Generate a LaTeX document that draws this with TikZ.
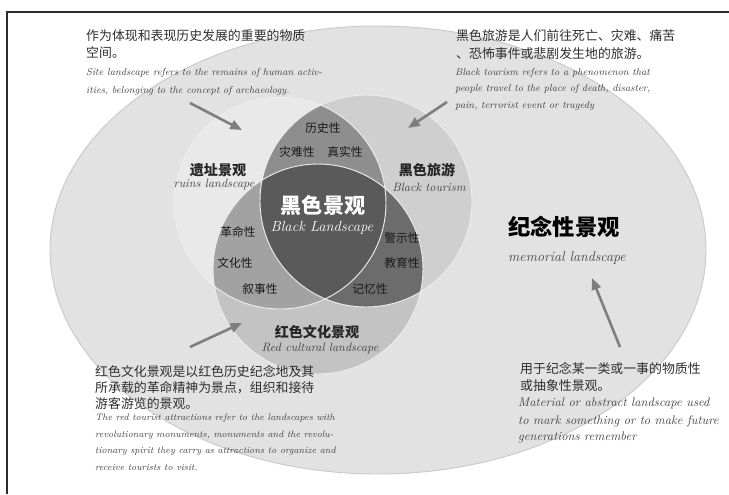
\documentclass[tikz,border=0pt]{standalone}
\usepackage{fontspec}
\usepackage{xcolor}
\usepackage{tikz}
\usetikzlibrary{arrows.meta}
\newfontfamily\zh{Noto Sans CJK SC}
\definecolor{framegray}{HTML}{2B2B2B}
\definecolor{ovalgray}{HTML}{E2E2E2}
\definecolor{ovalline}{HTML}{CACACA}
\definecolor{ruinsgray}{HTML}{E9E9E9}
\definecolor{tourgray}{HTML}{CFCFCF}
\definecolor{redgray}{HTML}{C3C3C3}
\definecolor{histgray}{HTML}{8E8E8E}
\definecolor{leftgray}{HTML}{A2A2A2}
\definecolor{rightgray}{HTML}{6C6C6C}
\definecolor{coregray}{HTML}{5A5A5A}
\definecolor{arrowgray}{HTML}{7E7E7E}
\definecolor{txtgray}{HTML}{2E2E2E}
\definecolor{engray}{HTML}{444444}

\begin{document}
\begin{tikzpicture}[x=0.03cm,y=-0.03cm,
  zhline/.style={anchor=base west,inner sep=0pt,text=txtgray,font=\zh\fontsize{11}{13}\selectfont},
  enline/.style={anchor=base west,inner sep=0pt,text=engray,font=\itshape\fontsize{8.6}{10}\selectfont},
  trait/.style={inner sep=0pt,text=black!90,font=\zh\fontsize{10}{12}\selectfont},
  setname/.style={inner sep=0pt,text=black!85,font=\zh\bfseries\fontsize{12}{14}\selectfont},
  setsub/.style={inner sep=0pt,text=engray,font=\itshape\fontsize{10.3}{12}\selectfont},
  pointer/.style={-{Triangle[length=10pt,width=8pt]},line width=2.2pt,draw=arrowgray,fill=arrowgray}]
\useasboundingbox (0,0) rectangle (729,494);
\fill[white] (0,0) rectangle (729,494);
\draw[framegray,line width=1.5pt] (7,494) -- (7,12) -- (729,12);
% big oval
\draw[fill=ovalgray,draw=ovalline,line width=0.8pt] (378,250) ellipse [x radius=328,y radius=224];
% three circles
\coordinate (ruins) at (280,203);
\coordinate (tour) at (366,201);
\coordinate (red) at (318,269);
\fill[ruinsgray] (ruins) circle [radius=106];
\fill[tourgray] (tour) circle [radius=106];
\fill[redgray] (red) circle [radius=105];
\begin{scope}
 \clip (ruins) circle [radius=106];
 \fill[histgray] (tour) circle [radius=106];
 \fill[leftgray] (red) circle [radius=105];
\end{scope}
\begin{scope}
 \clip (tour) circle [radius=106];
 \fill[rightgray] (red) circle [radius=105];
 \clip (ruins) circle [radius=106];
 \fill[coregray] (red) circle [radius=105];
\end{scope}
\draw[white!85!gray,line width=0.8pt] (ruins) circle [radius=106]
 (tour) circle [radius=106] (red) circle [radius=105];
%Ende circles
\path (323,128) node[trait] (hist) {历史性}
 (297,152) node[trait] (disa) {灾难性}
 (345,152) node[trait] (real) {真实性}
 (238,232) node[trait] (revo) {革命性}
 (235,263) node[trait] (cult) {文化性}
 (260,289) node[trait] (narr) {叙事性}
 (402,238) node[trait] (warn) {警示性}
 (402,263) node[trait] (educ) {教育性}
 (370,289) node[trait] (memo) {记忆性}
 (218,170) node[setname] (ruinsName) {遗址景观}
 (214,184) node[setsub] (ruinsSub) {ruins landscape}
 (427,170) node[setname] (tourName) {黑色旅游}
 (429,187) node[setsub] (tourSub) {Black tourism}
 (317,332) node[setname] (redName) {红色文化景观}
 (320,348) node[setsub] (redSub) {Red cultural landscape}
 (323,205) node[inner sep=0pt,text=white,font=\zh\bfseries\fontsize{18}{20}\selectfont] (core) {黑色景观}
 (322,228) node[inner sep=0pt,text=white,font=\itshape\fontsize{12.5}{14}\selectfont] (coreSub) {Black Landscape}
 (564,227) node[inner sep=0pt,text=black,font=\zh\bfseries\fontsize{19}{21}\selectfont] (memName) {纪念性景观}
 (567,258) node[inner sep=0pt,text=engray,font=\itshape\fontsize{12}{14}\selectfont] (memSub) {memorial landscape};
%Ende labels
\path (86,40) node[zhline] (tlA) {作为体现和表现历史发展的重要的物质}
 (86,57) node[zhline] (tlB) {空间。}
 (86,75) node[enline] (tlC) {Site landscape refers to the remains of human activ-}
 (86,93) node[enline] (tlD) {ities, belonging to the concept of archaeology.}
 (456,40) node[zhline] (trA) {黑色旅游是人们前往死亡、灾难、痛苦}
 (456,58) node[zhline] (trB) {、恐怖事件或悲剧发生地的旅游。}
 (455,75) node[enline] (trC) {Black tourism refers to a phenomenon that}
 (455,91) node[enline] (trD) {people travel to the place of death, disaster,}
 (455,108) node[enline] (trE) {pain, terrorist event or tragedy}
 (95,376) node[zhline] (blA) {红色文化景观是以红色历史纪念地及其}
 (95,392) node[zhline] (blB) {所承载的革命精神为景点，组织和接待}
 (95,408) node[zhline] (blC) {游客游览的景观。}
 (95,420) node[enline,font=\itshape\fontsize{8}{10}\selectfont] (blD) {The red tourist attractions refer to the landscapes with}
 (95,437) node[enline,font=\itshape\fontsize{8}{10}\selectfont] (blE) {revolutionary monuments, monuments and the revolu-}
 (95,453) node[enline,font=\itshape\fontsize{8}{10}\selectfont] (blF) {tionary spirit they carry as attractions to organize and}
 (95,470) node[enline,font=\itshape\fontsize{8}{10}\selectfont] (blG) {receive tourists to visit.}
 (520,373) node[zhline] (brA) {用于纪念某一类或一事的物质性}
 (520,390) node[zhline] (brB) {或抽象性景观。}
 (518,406) node[enline,font=\itshape\fontsize{10.6}{12}\selectfont] (brC) {Material or abstract landscape used}
 (518,424) node[enline,font=\itshape\fontsize{10.6}{12}\selectfont] (brD) {to mark something or to make future}
 (518,440) node[enline,font=\itshape\fontsize{10.6}{12}\selectfont] (brE) {generations remember};
% arrows
\coordinate (ruinsTail) at (190,103);
\coordinate (ruinsTip) at (242,130);
\coordinate (tourTail) at (447,102);
\coordinate (tourTip) at (408,128);
\coordinate (redTail) at (190,347);
\coordinate (redTip) at (242,323);
\coordinate (memTail) at (620,347);
\coordinate (memTip) at (592,278);
\draw[pointer] (ruinsTail) -- (ruinsTip);
\draw[pointer] (tourTail) -- (tourTip);
\draw[pointer] (redTail) -- (redTip);
\draw[pointer] (memTail) -- (memTip);
\end{tikzpicture}
\end{document}
